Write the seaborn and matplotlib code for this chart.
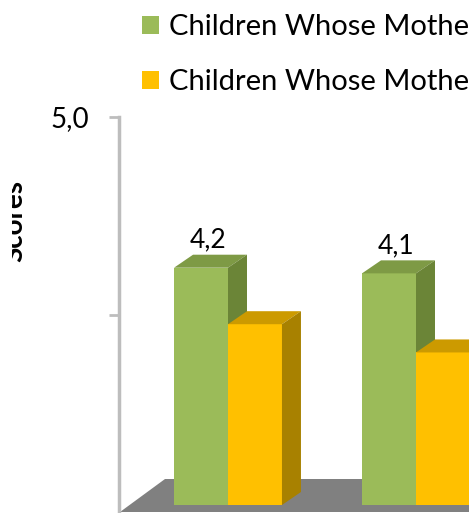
import matplotlib
matplotlib.use("Agg")
import matplotlib.pyplot as plt
from matplotlib.patches import Polygon
from matplotlib.transforms import IdentityTransform, Bbox, TransformedBbox
from matplotlib.ticker import FixedLocator, FixedFormatter
import seaborn as sns
import pandas as pd

# ---- data ----
categories = ["Reading", "Math"]
series_names = ["Children Whose Mothers Work", "Children Whose Mothers Stay at Home"]
working_mothers = [4.2, 4.1]
home_mothers = [3.2, 2.7]
axis_ticks = [2.5, 5.0]
axis_tick_labels = ["", "5,0"]
axis_title = "Scores"

front_colors = ["#9BBB59", "#FFC000"]
top_colors = ["#7E9A45", "#CC9A00"]
side_colors = ["#6B8537", "#A88100"]

df = pd.DataFrame({
    "category": categories * 2,
    "series": [series_names[0]] * 2 + [series_names[1]] * 2,
    "score": working_mothers + home_mothers,
})

W, H, DPI = 469, 513, 100
sns.set_theme(style="white")
plt.rcParams["font.family"] = ["Lato", "DejaVu Sans"]
plt.rcParams["text.color"] = "black"
plt.rcParams["ytick.labelcolor"] = "black"

fig = plt.figure(figsize=(W / DPI, H / DPI), dpi=DPI)
ax = fig.add_axes([0, 0, 1, 1])

sns.barplot(data=df, x="category", y="score", hue="series",
            palette=front_colors, width=0.574, gap=0, ax=ax,
            saturation=1, linewidth=0, legend=True)

# category spacing and vertical scale in pixels
unit_px, cat0_px = 188.0, 228.0
base_px, k_px = 505.0, 56.5
ax.set_xlim((0 - cat0_px) / unit_px, (W - cat0_px) / unit_px)
ax.set_ylim(-(H - base_px) / k_px, base_px / k_px)
ax.axis("off")

def to_disp(x, y):
    return ax.transData.transform((x, y))

dx, dy = 19.0, 13.0

# floor of the 3D plot
floor = Polygon([(120, 1), (165, 34), (W + 50, 34), (W + 50, 1)],
                closed=True, facecolor="#808080", edgecolor="none",
                transform=IdentityTransform(), zorder=0.5)
ax.add_patch(floor)

# extrude bars into boxes
for s, cont in enumerate(ax.containers):
    for bar in cont:
        bar.set_zorder(2 + s)
        x0 = bar.get_x()
        x1 = x0 + bar.get_width()
        h = bar.get_height()
        p00 = to_disp(x0, h)
        p10 = to_disp(x1, h)
        pb = to_disp(x1, 0)
        top = Polygon([p00, p10, (p10[0] + dx, p10[1] + dy), (p00[0] + dx, p00[1] + dy)],
                      closed=True, facecolor=top_colors[s], edgecolor="none",
                      transform=IdentityTransform(), zorder=2 + s)
        side = Polygon([pb, p10, (p10[0] + dx, p10[1] + dy), (pb[0] + dx, pb[1] + dy)],
                       closed=True, facecolor=side_colors[s], edgecolor="none",
                       transform=IdentityTransform(), zorder=2 + s)
        ax.add_patch(top)
        ax.add_patch(side)

# value labels on the first series
for bar, v in zip(ax.containers[0], working_mothers):
    cx = bar.get_x() + bar.get_width() / 2
    ax.annotate(f"{v:.1f}".replace(".", ","), xy=(cx, v), xytext=(7, 20),
                textcoords="offset pixels", ha="center", va="baseline",
                fontsize=19, color="black", zorder=6)

# legend
handles, labels = ax.get_legend_handles_labels()
leg = ax.legend(handles, labels, loc="upper left",
                bbox_to_anchor=(142 / W, 1 - 14 / H), bbox_transform=fig.transFigure,
                frameon=False, fontsize=21, handlelength=0.58, handleheight=0.58,
                handletextpad=0.34, labelspacing=1.0, borderpad=0, borderaxespad=0)
for txt in leg.get_texts():
    txt.set_color("black")

# value axis on the back wall
ax_wall = fig.add_axes([119 / W, 0, 0.02, (H - 117) / H])
ax_wall.set_facecolor("none")
ax_wall.set_ylim(0, 5)
ax_wall.set_xticks([])
for name in ["top", "right", "bottom"]:
    ax_wall.spines[name].set_visible(False)
ax_wall.spines["left"].set_color("#BDBDBD")
ax_wall.spines["left"].set_linewidth(2.5)
ax_wall.yaxis.set_major_locator(FixedLocator(axis_ticks))
ax_wall.yaxis.set_major_formatter(FixedFormatter(axis_tick_labels))
ax_wall.tick_params(axis="y", direction="out", length=7.5, width=2,
                    color="#BDBDBD", labelsize=20, labelcolor="black", pad=14, left=True)
ax_wall.set_zorder(5)

# axis title, clipped at the plot edge
t = fig.text(22 / W, 1 - 221 / H, axis_title, rotation=90, rotation_mode="anchor",
             ha="center", va="baseline", fontsize=20, fontweight="bold", color="black")
t.set_clip_on(True)
t.set_clip_box(TransformedBbox(Bbox([[12 / W, 0], [1, 1]]), fig.transFigure))

fig.savefig("out.png", dpi=DPI)
